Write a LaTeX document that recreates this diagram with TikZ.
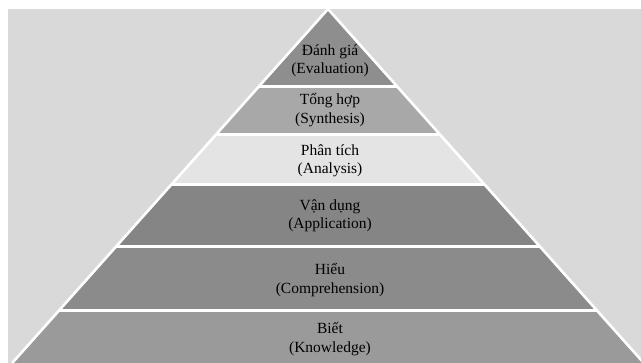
\documentclass[tikz,border=0pt]{standalone}
\usepackage{fontspec}
\setmainfont{Liberation Serif}
\definecolor{bgc}{HTML}{D9D9D9}
\definecolor{cEval}{HTML}{8E8E8E}
\definecolor{cSyn}{HTML}{A8A8A8}
\definecolor{cAna}{HTML}{E4E4E4}
\definecolor{cApp}{HTML}{858585}
\definecolor{cCom}{HTML}{8B8B8B}
\definecolor{cKno}{HTML}{9A9A9A}
\tikzset{
  layer/.style={draw=none},
  sep/.style={draw=white, line width=3pt},
  edge/.style={draw=white, line width=2.6pt},
  lbl/.style={align=center, font=\fontsize{15.5}{18.5}\selectfont, text=black, inner sep=0pt}
}
\begin{document}
\begin{tikzpicture}[x=1pt,y=-1pt]
\useasboundingbox (0,0) rectangle (641,363);
\clip (0,0) rectangle (641,363);
\fill[white] (0,0) rectangle (641,363);
\fill[bgc] (8,9) rectangle (641,363);
% pyramid points
\coordinate (A) at (328,9);
\coordinate (L1) at (258.4,87);  \coordinate (R1) at (397.6,87);
\coordinate (L2) at (215.6,135); \coordinate (R2) at (440.4,135);
\coordinate (L3) at (171.0,185); \coordinate (R3) at (485.0,185);
\coordinate (L4) at (115.7,247); \coordinate (R4) at (540.3,247);
\coordinate (L5) at (58.6,311);  \coordinate (R5) at (597.4,311);
\coordinate (L6) at (12.2,363);  \coordinate (R6) at (643.8,363);
% layers
\fill[cEval] (A) -- (R1) -- (L1) -- cycle;
\fill[cSyn] (L1) -- (R1) -- (R2) -- (L2) -- cycle;
\fill[cAna] (L2) -- (R2) -- (R3) -- (L3) -- cycle;
\fill[cApp] (L3) -- (R3) -- (R4) -- (L4) -- cycle;
\fill[cCom] (L4) -- (R4) -- (R5) -- (L5) -- cycle;
\fill[cKno] (L5) -- (R5) -- (R6) -- (L6) -- cycle;
% separators
\draw[sep] (L1) -- (R1);
\draw[sep] (L2) -- (R2);
\draw[sep] (L3) -- (R3);
\draw[sep] (L4) -- (R4);
\draw[sep] (L5) -- (R5);
\draw[edge, line join=miter] (L6) -- (A) -- (R6);
% labels
\node[lbl] (eval) at (330,61) {Đánh giá\\(Evaluation)};
\node[lbl] (syn) at (330,110) {Tổng hợp\\(Synthesis)};
\node[lbl] (ana) at (330,161) {Phân tích\\(Analysis)};
\node[lbl] (app) at (330,216) {Vận dụng\\(Application)};
\node[lbl] (com) at (330,280) {Hiểu\\(Comprehension)};
\node[lbl] (kno) at (330,339) {Biết\\(Knowledge)};
\end{tikzpicture}
\end{document}
